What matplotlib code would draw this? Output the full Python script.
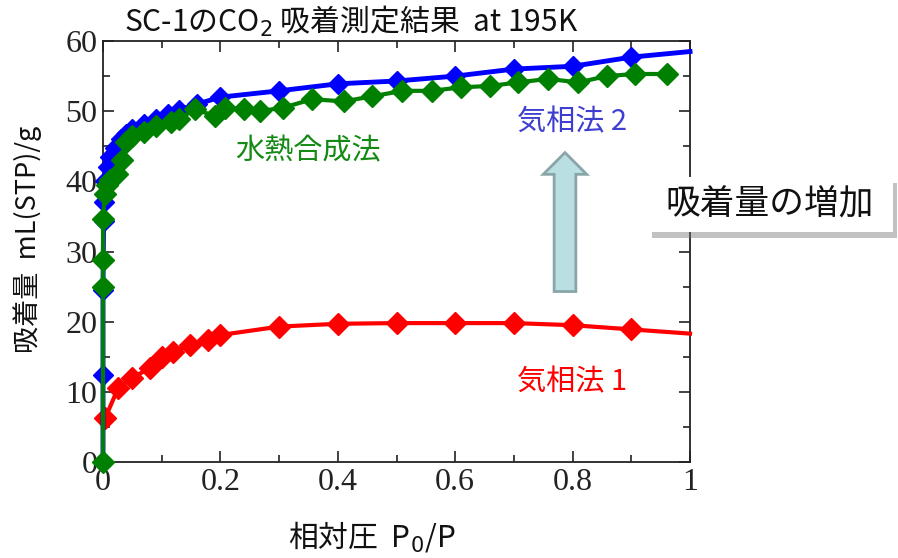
import numpy as np
import matplotlib
matplotlib.use("Agg")
import matplotlib.pyplot as plt
from matplotlib.patches import FancyArrow, Rectangle
from matplotlib import patheffects
from matplotlib.ticker import MultipleLocator

plt.rcParams['font.family'] = ['Noto Sans CJK JP', 'DejaVu Sans']
plt.rcParams['mathtext.fontset'] = 'dejavusans'

# 気相法 1 (red); last point only continues the line to x=1
red_x = [0.004, 0.026, 0.05, 0.08, 0.10, 0.12, 0.148, 0.179, 0.20, 0.30, 0.40, 0.50, 0.60, 0.70, 0.80, 0.90, 1.0]
red_y = [6.3, 10.6, 12.0, 13.4, 15.0, 15.7, 16.7, 17.4, 18.1, 19.3, 19.7, 19.8, 19.8, 19.8, 19.5, 18.9, 18.3]

# 気相法 2 (blue); last point only continues the line to x=1
blue_x = [0.0, 0.0, 0.0, 0.001, 0.002, 0.004, 0.008, 0.012, 0.02, 0.03, 0.04, 0.05, 0.07, 0.09, 0.11,
          0.13, 0.16, 0.20, 0.30, 0.40, 0.50, 0.60, 0.70, 0.80, 0.90, 1.0]
blue_y = [0.0, 12.4, 24.5, 34.3, 37.0, 40.0, 42.0, 43.5, 44.8, 46.0, 46.8, 47.4, 48.2, 48.9, 49.6,
          50.2, 51.0, 52.0, 52.9, 53.9, 54.3, 55.0, 56.0, 56.4, 57.7, 58.5]

# 水熱合成法 (green)
green_x = [0.0, 0.0, 0.0, 0.0, 0.003, 0.006, 0.012, 0.024, 0.032, 0.04, 0.05, 0.07, 0.09, 0.115, 0.13,
           0.157, 0.19, 0.208, 0.24, 0.267, 0.307, 0.356, 0.41, 0.458, 0.51, 0.56, 0.61, 0.66,
           0.707, 0.758, 0.81, 0.858, 0.906, 0.96]
green_y = [0.0, 25.0, 28.8, 34.6, 38.2, 39.5, 40.2, 41.0, 43.0, 45.6, 46.4, 47.1, 47.9, 48.4, 48.9,
           50.3, 49.3, 50.5, 50.3, 50.0, 50.5, 51.7, 51.4, 52.1, 52.9, 52.9, 53.4, 53.6,
           54.1, 54.6, 54.1, 55.0, 55.3, 55.3]

x_ticks = [0, 0.2, 0.4, 0.6, 0.8, 1.0]
x_tick_labels = ['0', '0.2', '0.4', '0.6', '0.8', '1']
y_ticks = [0, 10, 20, 30, 40, 50, 60]

fig = plt.figure(figsize=(8.98, 5.58), dpi=100)
ax = fig.add_axes([0.1147, 0.172, 0.6537, 0.7545])

ax.plot(red_x, red_y, '-', color='#ff0000', lw=3, marker='D', ms=11,
        markevery=list(range(len(red_x) - 1)), zorder=3, clip_on=False)
ax.plot(blue_x, blue_y, '-', color='#0000ff', lw=3.5, marker='D', ms=10,
        markevery=list(range(len(blue_x) - 1)), zorder=4, clip_on=False)
ax.plot(green_x, green_y, '-', color='#008000', lw=3, marker='D', ms=11, zorder=5, clip_on=False)

ax.set_xlim(0, 1)
ax.set_ylim(0, 60)
ax.set_xticks(x_ticks)
ax.set_xticklabels(x_tick_labels)
ax.set_yticks(y_ticks)
ax.xaxis.set_minor_locator(MultipleLocator(0.1))
ax.yaxis.set_minor_locator(MultipleLocator(5))
ax.tick_params(which='both', direction='in', top=True, right=True, color='#222222')
ax.tick_params(which='major', length=8, width=1.2, pad=4)
ax.tick_params(which='minor', length=5, width=1.2)
for lab in ax.get_xticklabels() + ax.get_yticklabels():
    lab.set_family('Liberation Serif')
    lab.set_fontsize(23)
    lab.set_color('#222222')
for sp in ax.spines.values():
    sp.set_linewidth(1.3)
    sp.set_color('#222222')

fig.text(0.391, 0.962, 'SC-1のCO$_2$ 吸着測定結果  at 195K', fontsize=21.5,
         ha='center', va='center', color='#111111')
ax.set_xlabel('相対圧  P$_0$/P', fontsize=21.5, color='#111111', va='center')
ax.xaxis.set_label_coords(0.458, -0.178)
ax.set_ylabel('吸着量  mL(STP)/g', fontsize=19.5, color='#111111', va='center')
ax.yaxis.set_label_coords(-0.128, 0.53)

ax.text(0.225, 44.3, '水熱合成法', color='#138a13', fontsize=21, ha='left', va='center')
ax.text(0.705, 48.4, '気相法 2', color='#3e3ed0', fontsize=21, ha='left', va='center')
ax.text(0.705, 11.4, '気相法 1', color='#ff0000', fontsize=21, ha='left', va='center')

arrow = FancyArrow(0.787, 24.3, 0, 19.8, width=0.037, head_width=0.074, head_length=3.1,
                   length_includes_head=True, facecolor='#b9dfe3', edgecolor='#8aa5a8',
                   lw=2, zorder=6)
ax.add_patch(arrow)

box = Rectangle((0.7216, 0.5842), 0.2728, 0.0986, transform=fig.transFigure,
                facecolor='white', edgecolor='none', zorder=8)
box.set_path_effects([patheffects.withSimplePatchShadow(offset=(3, -4), shadow_rgbFace='#777777',
                                                        alpha=0.45), patheffects.Normal()])
fig.patches.append(box)
fig.text(0.8575, 0.6335, '吸着量の増加', fontsize=25, ha='center', va='center',
         color='#111111', zorder=9)

fig.savefig('out.png', dpi=100)
